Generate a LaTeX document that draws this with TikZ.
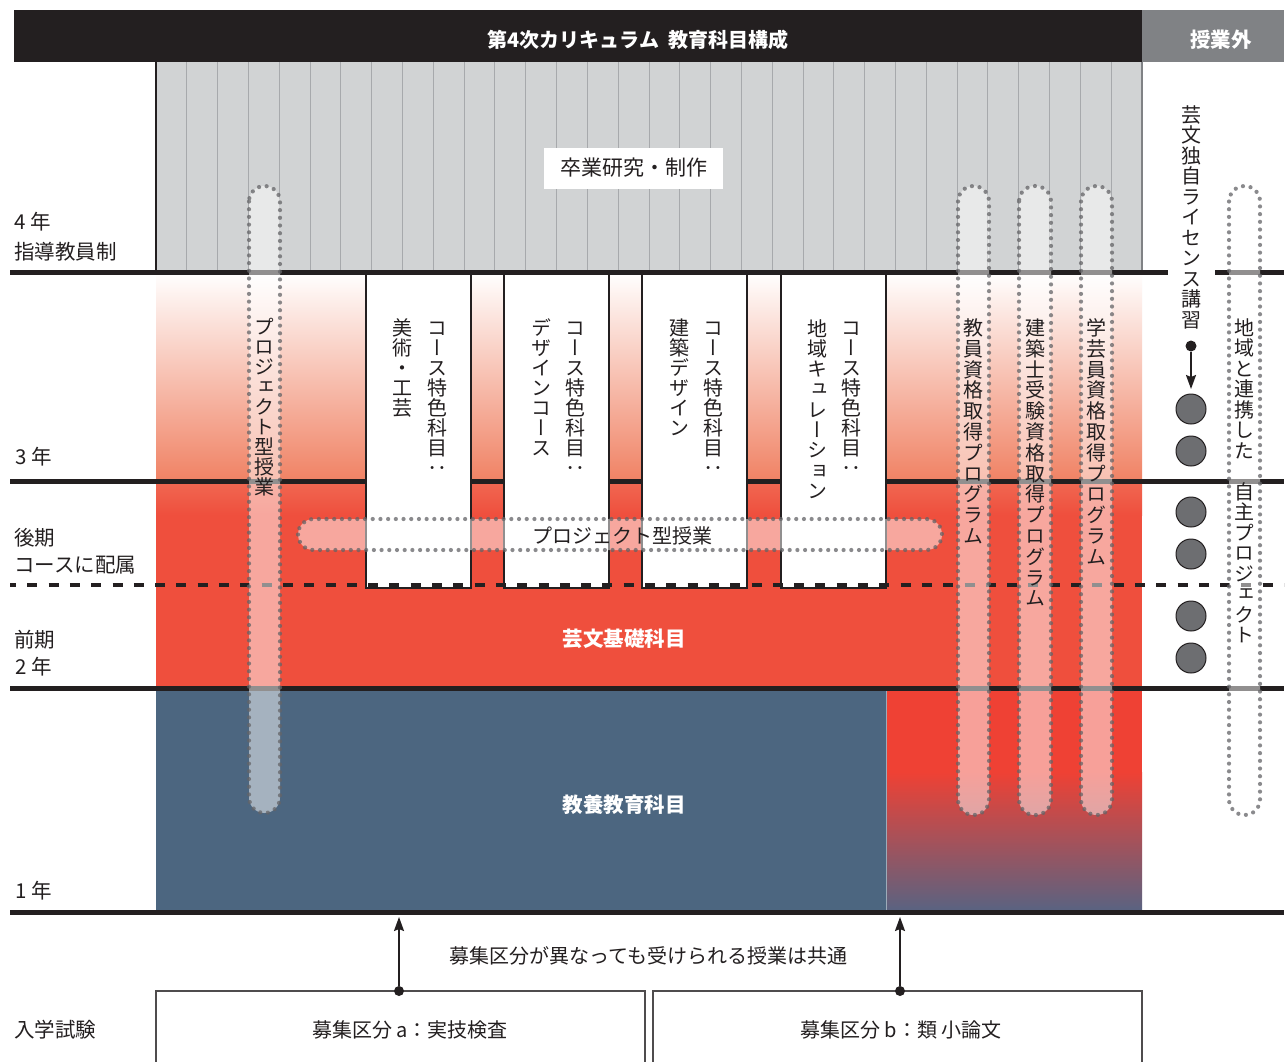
\documentclass[tikz,border=0pt]{standalone}
\usepackage{fontspec}
\setmainfont{Noto Sans CJK JP}
\newfontfamily\vjp[Script=CJK,RawFeature=+vert]{Noto Sans CJK JP}
\usetikzlibrary{arrows.meta}
\definecolor{hdr}{RGB}{35,31,32}
\definecolor{hdrgray}{RGB}{128,130,133}
\definecolor{graybg}{RGB}{209,211,212}
\definecolor{stripecol}{RGB}{167,169,172}
\definecolor{redmain}{RGB}{239,79,61}
\definecolor{redlow}{RGB}{239,65,52}
\definecolor{redtop}{RGB}{240,104,82}
\definecolor{salmonmid}{RGB}{250,210,195}
\definecolor{salmon}{RGB}{240,130,100}
\definecolor{bluemain}{RGB}{76,102,128}
\definecolor{bluegray}{RGB}{88,99,130}
\definecolor{dotgray}{RGB}{100,100,103}
\definecolor{circgray}{RGB}{109,110,113}
\newlength\vstep
\makeatletter
\def\vs@end{\vs@end}
\def\vs@loop#1{\ifx#1\vs@end\else\hbox to \vstep{\hss\vrule height .88\vstep depth .12\vstep width 0pt\relax#1\hss}\expandafter\vs@loop\fi}
\newcommand\vstack[2][20pt]{\setlength\vstep{#1}\vbox{\offinterlineskip\vjp\fontsize{20}{20}\selectfont\vs@loop#2\vs@end}}
\makeatother
\begin{document}
\begin{tikzpicture}[x=1pt,y=-1pt,
  thickline/.style={line width=5pt, draw=hdr},
  capsule/.style={rounded corners=15.5pt, fill=white, fill opacity=0.5, draw=dotgray, draw opacity=0.75, line width=4.2pt, line cap=round, dash pattern=on 0pt off 7.7pt},
  lbl/.style={font=\fontsize{20.5}{24}\selectfont, anchor=west, inner sep=0pt, text=hdr},
  vt/.style={anchor=north, inner sep=0pt, text=hdr},
  colbox/.style={fill=white, draw=hdr, line width=1.5pt},
  circ/.style={circle, minimum size=30pt, inner sep=0pt, fill=circgray, draw=hdr, line width=1pt},
  dotnode/.style={circle, minimum size=11pt, inner sep=0pt, fill=hdr},
  arr/.style={draw=hdr, line width=1.8pt, -{Stealth[length=14pt,width=10pt,inset=2pt]}},
  exambox/.style={draw=hdr!80, line width=1.2pt},
  wbold/.style={font=\fontsize{20.5}{24}\selectfont\bfseries, text=white, inner sep=0pt}
]
\useasboundingbox (0,0) rectangle (1288,1061);
\fill[white] (0,0) rectangle (1288,1061);
% header
\fill[hdr] (14,10) rectangle (1142,62);
\fill[hdrgray] (1142,10) rectangle (1284,62);
\node[wbold, font=\fontsize{20}{24}\selectfont\bfseries] (title) at (638,40) {第4次カリキュラム\hspace{0.45em}教育科目構成};
\node[wbold] (extra) at (1221,40) {授業外};
% gray 4th year
\fill[graybg] (156,62) rectangle (1142,272);
\foreach \i in {1,...,31} {\draw[stripecol, line width=0.9pt] ({156+\i*30.8125},62) -- ({156+\i*30.8125},272);}
\draw[hdr, line width=1.5pt] (156,62) -- (156,272);
\draw[hdrgray, line width=1.5pt] (1142,62) -- (1142,272);
\node[fill=white, minimum width=179pt, minimum height=41pt, inner sep=0pt, text=hdr, font=\fontsize{21}{24}\selectfont] (sotsu) at (633.5,168) {卒業研究・制作};
% colored areas
\shade[top color=white, middle color=salmonmid, bottom color=salmon] (156,272) rectangle (1142,481);
\shade[top color=redtop, bottom color=redmain] (156,481) rectangle (1142,515);
\fill[redmain] (156,515) rectangle (1142,688);
\fill[bluemain] (156,688) rectangle (886,912);
\fill[redlow] (886,688) rectangle (1142,772);
\shade[top color=redlow, bottom color=bluegray] (886,772) rectangle (1142,912);
\draw[line width=0.7pt, color=white!45!bluemain] (886,688) -- (886,912);
\node[wbold] (kiso) at (624,639) {芸文基礎科目};
\node[wbold] (kyoyo) at (624,805) {教養教育科目};
% horizontal lines
\draw[thickline] (10,272) -- (1168,272);
\draw[thickline] (1215,272) -- (1284,272);
\draw[thickline] (10,481) -- (1284,481);
\draw[thickline] (10,688) -- (1284,688);
\draw[thickline] (10,912) -- (1284,912);
% course columns
\foreach \xl in {366,504,642,781} {\draw[colbox] (\xl,274) rectangle ({\xl+105},588);}
\draw[hdr, line width=4.5pt, dash pattern=on 10pt off 11.3pt, dash phase=4pt] (10,585) -- (1284,585);
\node[vt] (c1a) at (437,318) {\vstack{コース特色科目：}};
\node[vt] (c1b) at (402,318) {\vstack{美術・工芸}};
\node[vt] (c2a) at (575,318) {\vstack{コース特色科目：}};
\node[vt] (c2b) at (541,318) {\vstack{デザインコース}};
\node[vt] (c3a) at (713,318) {\vstack{コース特色科目：}};
\node[vt] (c3b) at (679,318) {\vstack{建築デザイン}};
\node[vt] (c4a) at (851,318) {\vstack{コース特色科目：}};
\node[vt] (c4b) at (817,318) {\vstack[20.3pt]{地域キュレーション}};
% capsules
\path[capsule] (249,186) rectangle (280,813);
\path[capsule] (958,186) rectangle (989,815);
\path[capsule] (1019,186) rectangle (1051,815);
\path[capsule] (1081,186) rectangle (1112,815);
\path[capsule] (1229,186) rectangle (1260,815);
\path[capsule] (298,519) rectangle (942,550);
\node[vt] (p1) at (264.5,317) {\vstack{プロジェクト型授業}};
\node[vt] (p2) at (973.5,317) {\vstack[20.8pt]{教員資格取得プログラム}};
\node[vt] (p3) at (1035,317) {\vstack[20.8pt]{建築士受験資格取得プログラム}};
\node[vt] (p4) at (1096.5,317) {\vstack[20.8pt]{学芸員資格取得プログラム}};
\node[vt] (p5) at (1244.5,317) {\vstack[20.5pt]{地域と連携した　自主プロジェクト}};
\node[inner sep=0pt, text=hdr, font=\fontsize{20}{24}\selectfont] (ph) at (622,536) {プロジェクト型授業};
% license course
\node[vt] (lic) at (1191,104) {\vstack[20.5pt]{芸文独自ライセンス講習}};
\node[dotnode] (ld) at (1191,346) {};
\coordinate (la) at (1191,389);
\draw[arr] (ld) -- (la);
\node[circ] (k1) at (1191,409) {};
\node[circ] (k2) at (1191,451) {};
\node[circ] (k3) at (1191,512) {};
\node[circ] (k4) at (1191,554) {};
\node[circ] (k5) at (1191,616) {};
\node[circ] (k6) at (1191,658) {};
% left labels
\node[lbl] (y4) at (14,222) {4 年};
\node[lbl] (y4b) at (14,252) {指導教員制};
\node[lbl] (y3) at (15,457) {3 年};
\node[lbl] (kouki) at (14,538) {後期};
\node[lbl] (haizoku) at (14,565) {コースに配属};
\node[lbl] (zenki) at (14,640) {前期};
\node[lbl] (y2) at (15,667) {2 年};
\node[lbl] (y1) at (15,891) {1 年};
\node[lbl] (exam) at (14,1030) {入学試験};
% entrance exam
\draw[exambox] (156,1070) -- (156,991) -- (645,991) -- (645,1070);
\draw[exambox] (653,1070) -- (653,991) -- (1142,991) -- (1142,1070);
\node[inner sep=0pt, text=hdr, font=\fontsize{20}{24}\selectfont] (ea) at (410,1030) {募集区分 a：実技検査};
\node[inner sep=0pt, text=hdr, font=\fontsize{20}{24}\selectfont] (eb) at (901,1030) {募集区分 b：類 小論文};
\node[inner sep=0pt, text=hdr, font=\fontsize{20}{24}\selectfont] (common) at (648,956) {募集区分が異なっても受けられる授業は共通};
\node[dotnode, minimum size=10pt] (da) at (399,991) {};
\node[dotnode, minimum size=10pt] (db) at (900,991) {};
\coordinate (ta) at (399,917);
\coordinate (tb) at (900,917);
\draw[arr] (da) -- (ta);
\draw[arr] (db) -- (tb);
\end{tikzpicture}
\end{document}
